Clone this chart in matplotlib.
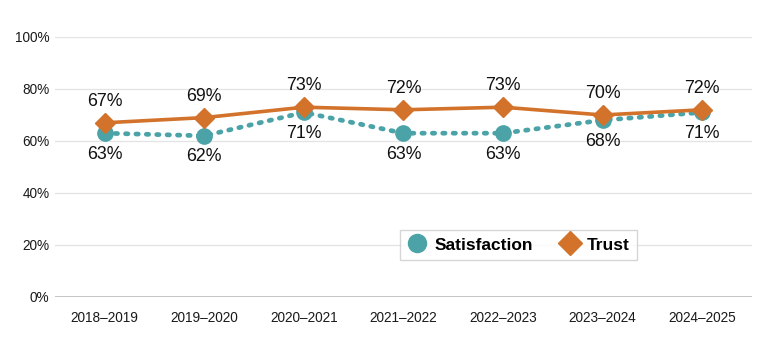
import matplotlib
matplotlib.use("Agg")
import matplotlib.pyplot as plt
from matplotlib.lines import Line2D

plt.rcParams['font.family'] = ['Liberation Sans', 'DejaVu Sans']

years = ['2018\u20132019', '2019\u20132020', '2020\u20132021', '2021\u20132022',
         '2022\u20132023', '2023\u20132024', '2024\u20132025']
satisfaction = [63, 62, 71, 63, 63, 68, 71]
trust = [67, 69, 73, 72, 73, 70, 72]
y_ticks = [0, 20, 40, 60, 80, 100]

teal = '#4BA3A8'
orange = '#D2722B'

fig = plt.figure(figsize=(7.68, 3.49), dpi=100)
ax = fig.add_axes([0.0716, 0.149, 0.9074, 0.745])

x = list(range(len(years)))

ax.plot(x, satisfaction, color=teal, linestyle=(0, (0.5, 1.7)), linewidth=3.4,
        dash_capstyle='round', marker='o', markersize=11, zorder=3)
ax.plot(x, trust, color=orange, linewidth=2.6, marker='D', markersize=10, zorder=4)

for i in x:
    ax.annotate(f'{trust[i]}%', (i, trust[i]), xytext=(0, 15.5), textcoords='offset points',
                ha='center', va='center', fontsize=12.8, color='#111111', zorder=5)
    ax.annotate(f'{satisfaction[i]}%', (i, satisfaction[i]), xytext=(0, -15),
                textcoords='offset points', ha='center', va='center', fontsize=12.8,
                color='#111111', zorder=5)

ax.set_xlim(-0.5, len(years) - 0.5)
ax.set_ylim(0, 100)
ax.set_yticks(y_ticks)
ax.set_yticklabels([f'{v}%' for v in y_ticks])
ax.set_xticks(x)
ax.set_xticklabels(years)
ax.tick_params(length=0, labelsize=9.8, colors='#1a1a1a')
ax.tick_params(axis='x', pad=10)
ax.tick_params(axis='y', pad=4)

for v in y_ticks:
    ax.axhline(v, color='#bbbbbb' if v == 0 else '#e3e3e3', linewidth=1.2 if v == 0 else 0.9,
               zorder=1)
for s in ax.spines.values():
    s.set_visible(False)

handles = [Line2D([], [], color=teal, marker='o', linestyle='none', markersize=13),
           Line2D([], [], color=orange, marker='D', linestyle='none', markersize=12)]
leg = ax.legend(handles, ['Satisfaction', 'Trust'], loc='center', bbox_to_anchor=(0.665, 0.2),
                ncol=2, frameon=True, fancybox=False, prop={'weight': 'bold', 'size': 12.5},
                handletextpad=0.4, columnspacing=1.5, borderpad=0.4, handlelength=1.2)
leg.get_frame().set_edgecolor('#cccccc')
leg.get_frame().set_linewidth(1)

fig.savefig('out.png', dpi=100)
